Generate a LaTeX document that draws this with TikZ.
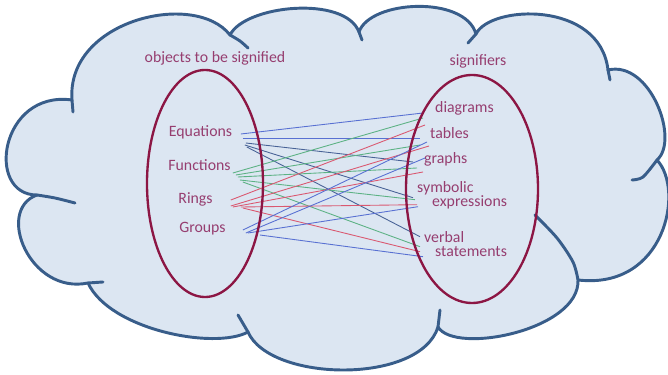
\documentclass[tikz,border=0pt]{standalone}
\usepackage{fontspec}
\setmainfont{Carlito}
\usetikzlibrary{calc}
\definecolor{cloudfill}{RGB}{220,230,242}
\definecolor{cloudline}{RGB}{56,93,138}
\definecolor{ovalred}{RGB}{140,22,68}
\definecolor{labelpink}{RGB}{150,62,112}
\definecolor{linkblue}{RGB}{88,112,210}
\definecolor{linkslate}{RGB}{72,98,150}
\definecolor{linkgreen}{RGB}{92,178,132}
\definecolor{linkred}{RGB}{218,88,112}
\begin{document}
\begin{tikzpicture}[x=0.03cm,y=-0.03cm,
		cloud/.style={draw=cloudline,fill=cloudfill,line width=2.5pt,line join=round},
		tail/.style={draw=cloudline,line width=2.5pt,line cap=round},
		oval/.style={draw=ovalred,line width=2pt},
		lbl/.style={text=labelpink,inner sep=0pt,font=\fontsize{13.5}{14}\selectfont},
		bl/.style={linkblue,line width=0.75pt},
		sl/.style={linkslate,line width=0.75pt},
		gr/.style={linkgreen,line width=0.75pt},
		rd/.style={linkred,line width=0.75pt}]
	\useasboundingbox (0,0) rectangle (668,375);
	\filldraw[cloud] (72,100) .. controls (66,20) and (195,-10) .. (230,35)
		.. controls (245,5) and (345,-5) .. (359,32)
		.. controls (370,0) and (465,-5) .. (476,34)
		.. controls (490,5) and (600,0) .. (608,70)
		.. controls (650,60) and (680,140) .. (657,160)
		.. controls (685,190) and (665,290) .. (578,280)
		.. controls (580,330) and (455,355) .. (438,327)
		.. controls (420,385) and (270,382) .. (248,332)
		.. controls (215,350) and (110,330) .. (88,283)
		.. controls (30,295) and (-5,210) .. (37,195)
		.. controls (-15,195) and (0,90) .. (72,100) -- cycle;
	\draw[tail] plot[smooth] coordinates {(230,35) (240,41) (248,48)};
	\draw[tail] plot[smooth] coordinates {(359,32) (362,40)};
	\draw[tail] plot[smooth] coordinates {(476,34) (468,43)};
	\draw[tail] plot[smooth] coordinates {(608,70) (610,80)};
	\draw[tail] plot[smooth] coordinates {(657,160) (643,177) (632,180)};
	\draw[tail] plot[smooth] coordinates {(578,280) (573,262) (557,238) (535,215)};
	\draw[tail] plot[smooth] coordinates {(438,327) (440,310)};
	\draw[tail] plot[smooth] coordinates {(248,332) (238,315)};
	\draw[tail] plot[smooth] coordinates {(88,283) (103,282)};
	\draw[tail] plot[smooth] coordinates {(37,195) (55,198) (75,203)};
	\draw[tail] plot[smooth] coordinates {(72,100) (73,112)};
	\node[lbl,anchor=base] (obj) at (215,63) {objects to be signified};
	\node[lbl,anchor=base] (sig) at (478,66) {signifiers};
	\node[lbl,anchor=base] (eq) at (200.5,137) {Equations};
	\node[lbl,anchor=base] (fn) at (199.5,171) {Functions};
	\node[lbl,anchor=base] (rg) at (195.5,204) {Rings};
	\node[lbl,anchor=base] (gp) at (202.5,233) {Groups};
	\node[lbl,anchor=base west] (dia) at (435,113) {diagrams};
	\node[lbl,anchor=base west] (tab) at (430,139) {tables};
	\node[lbl,anchor=base west] (gra) at (424,164) {graphs};
	\node[lbl,anchor=north west,align=left] (sym) at (417,181.7) {symbolic\\[-2.5pt]\hspace*{0.45cm}expressions};
	\node[lbl,anchor=north west,align=left] (ver) at (424,231.7) {verbal\\[-2.5pt]\hspace*{0.33cm}statements};
	\draw[bl] ($(eq.base east)+(8.5,-3)$) -- ($(dia.base west)+(-12,0)$);
	\draw[bl] ($(eq.base east)+(10.5,1)$) -- ($(tab.base west)+(-10,-1)$);
	\draw[sl] ($(eq.base east)+(13.5,6)$) -- ($(gra.base west)+(-11,-2)$);
	\draw[sl] ($(eq.base east)+(12.5,8)$) -- ($(sym.north west)+(-4,16)$);
	\draw[sl] ($(eq.base east)+(14.5,10)$) -- ($(ver.north west)+(-4,5)$);
	\draw[gr] ($(fn.base east)+(2,2)$) -- ($(dia.base west)+(-12,5)$);
	\draw[gr] ($(fn.base east)+(5,4)$) -- ($(tab.base west)+(-10,6)$);
	\draw[gr] ($(fn.base east)+(7,6)$) -- ($(gra.base west)+(-7,4)$);
	\draw[gr] ($(fn.base east)+(9,9)$) -- ($(sym.north west)+(-2,18)$);
	\draw[gr] ($(fn.base east)+(12,11)$) -- ($(ver.north west)+(-4,15)$);
	\draw[rd] ($(rg.base east)+(18,-4)$) -- ($(dia.base west)+(-10,12)$);
	\draw[rd] ($(rg.base east)+(18,2)$) -- ($(tab.base west)+(-1,7)$);
	\draw[rd] ($(rg.base east)+(20,3)$) -- ($(gra.base west)+(-1,8)$);
	\draw[rd] ($(rg.base east)+(28,3)$) -- ($(sym.north west)+(0,23)$);
	\draw[rd] ($(rg.base east)+(30,4)$) -- ($(ver.north west)+(-4,20)$);
	\draw[bl] ($(gp.base east)+(17,-3)$) -- ($(tab.base west)+(-3,3)$);
	\draw[bl] ($(gp.base east)+(20,0)$) -- ($(gra.base west)+(1,-6)$);
	\draw[bl] ($(gp.base east)+(22,0)$) -- ($(sym.north west)+(1,25)$);
	\draw[bl] ($(gp.base east)+(34,2)$) -- ($(ver.north west)+(-1,25)$);
	\draw[oval] (205,183.5) ellipse (58 and 113.5);
	\draw[oval] (472,189) ellipse (66 and 114);
\end{tikzpicture}
\end{document}
